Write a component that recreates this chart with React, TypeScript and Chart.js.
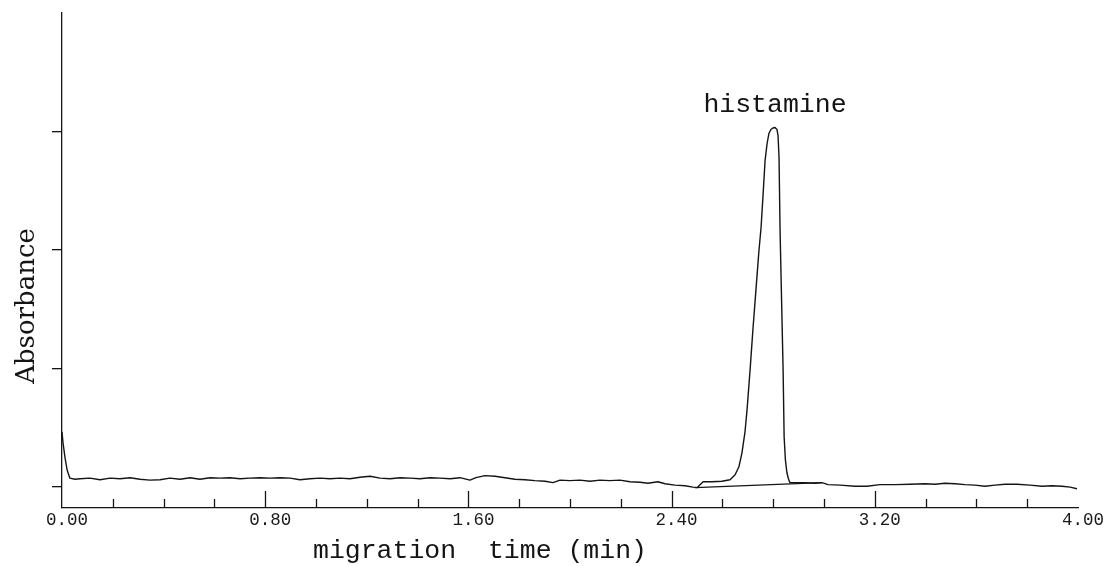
import React, { useEffect, useRef } from "react";
import { Chart, registerables } from "chart.js";

Chart.register(...registerables);

// migration time (min)
const traceTime = [
  0.0, 0.004, 0.012, 0.02, 0.031, 0.051, 0.071, 0.11, 0.15, 0.189, 0.228, 0.268, 0.307, 0.346, 0.386,
  0.425, 0.465, 0.504, 0.543, 0.583, 0.622, 0.661, 0.701, 0.74, 0.78, 0.819, 0.858, 0.898, 0.937, 0.976,
  1.016, 1.055, 1.094, 1.134, 1.173, 1.213, 1.252, 1.291, 1.331, 1.37, 1.409, 1.449, 1.488, 1.528, 1.567,
  1.606, 1.63, 1.665, 1.705, 1.744, 1.783, 1.823, 1.862, 1.902, 1.933, 1.961, 2.0, 2.039, 2.079, 2.118,
  2.157, 2.197, 2.236, 2.276, 2.307, 2.346, 2.374, 2.413, 2.453, 2.484,
  2.5, 2.512, 2.524, 2.559, 2.598, 2.63, 2.65, 2.665, 2.677, 2.689, 2.697, 2.709, 2.72, 2.732, 2.744,
  2.752, 2.76, 2.768, 2.776, 2.783, 2.791, 2.799, 2.807, 2.815, 2.819, 2.823, 2.827, 2.833, 2.839,
  2.843, 2.848, 2.854, 2.86, 2.866,
  2.886, 2.925, 2.965, 2.992, 3.016, 3.063, 3.122, 3.169, 3.22, 3.28, 3.339, 3.398, 3.437, 3.476,
  3.516, 3.555, 3.594, 3.634, 3.673, 3.713, 3.76, 3.811, 3.858, 3.898, 3.937, 3.969, 3.996,
];

// absorbance (arbitrary units)
const traceAbs = [
  0.463, 0.371, 0.244, 0.143, 0.072, 0.063, 0.067, 0.072, 0.059, 0.072, 0.067, 0.076, 0.063, 0.055, 0.059,
  0.072, 0.063, 0.076, 0.063, 0.076, 0.072, 0.076, 0.067, 0.072, 0.076, 0.072, 0.076, 0.072, 0.059, 0.067,
  0.072, 0.067, 0.072, 0.067, 0.08, 0.088, 0.072, 0.067, 0.076, 0.072, 0.067, 0.076, 0.072, 0.067, 0.076,
  0.055, 0.076, 0.093, 0.088, 0.076, 0.063, 0.059, 0.051, 0.046, 0.034, 0.055, 0.051, 0.055, 0.046, 0.055,
  0.051, 0.055, 0.042, 0.038, 0.029, 0.042, 0.025, 0.013, 0.008, -0.004,
  -0.008, 0.017, 0.042, 0.042, 0.046, 0.059, 0.101, 0.168, 0.286, 0.463, 0.649, 0.986, 1.323, 1.66, 1.997,
  2.182, 2.46, 2.755, 2.898, 2.982, 3.016, 3.029, 3.033, 3.016, 2.965, 2.78, 2.165, 1.575, 0.986,
  0.421, 0.227, 0.118, 0.067, 0.034,
  0.034, 0.034, 0.029, 0.034, 0.017, 0.013, 0.004, 0.004, 0.017, 0.017, 0.021, 0.025, 0.021, 0.029,
  0.025, 0.017, 0.013, 0.004, 0.013, 0.021, 0.021, 0.013, 0.004, 0.008, 0.004, -0.004, -0.017,
];

// integration baseline drawn under the peak
const baselineTime = [2.492, 2.992];
const baselineAbs = [-0.008, 0.034];

const peakLabel = "histamine";
const peakTime = 2.807;
const peakAbs = 3.033;

const xMajorLabels = ["0.00", "0.80", "1.60", "2.40", "3.20", "4.00"];
const yTickValues = [0, 1, 2, 3];

const xTitle = "migration  time (min)";
const yTitle = "Absorbance";

const INK = "#141414";

export default function App() {
  const canvasRef = useRef<HTMLCanvasElement | null>(null);

  useEffect(() => {
    const canvas = canvasRef.current;
    if (!canvas) return;

    const decorations = {
      id: "decorations",
      afterDraw(chart: any) {
        const { ctx, chartArea } = chart;
        const xs = chart.scales.x;
        const ys = chart.scales.y;
        ctx.save();
        // upward x tick marks
        ctx.strokeStyle = INK;
        ctx.lineWidth = 1.3;
        xs.ticks.forEach((t: any) => {
          const v = t.value;
          if (v <= 0.001 || v >= 3.999) return;
          const q = v / 0.8;
          const major = Math.abs(q - Math.round(q)) < 1e-6;
          const px = Math.round(xs.getPixelForValue(v)) + 0.5;
          ctx.beginPath();
          ctx.moveTo(px, chartArea.bottom);
          ctx.lineTo(px, chartArea.bottom - (major ? 17 : 9));
          ctx.stroke();
        });
        // peak label
        ctx.fillStyle = INK;
        ctx.font = '26.5px "Liberation Mono"';
        ctx.textAlign = "center";
        ctx.textBaseline = "alphabetic";
        ctx.fillText(peakLabel, xs.getPixelForValue(peakTime), ys.getPixelForValue(peakAbs) - 16);
        // x title
        ctx.textAlign = "left";
        ctx.fillText(xTitle, 313, 558);
        // y title
        ctx.font = '26px "DejaVu Serif"';
        ctx.translate(34, 306);
        ctx.rotate(-Math.PI / 2);
        ctx.textAlign = "center";
        ctx.fillText(yTitle, 0, 0);
        ctx.restore();
      },
    };

    const chart = new Chart(canvas, {
      type: "line",
      data: {
        datasets: [
          {
            data: traceTime.map((t, i) => ({ x: t, y: traceAbs[i] })),
            borderColor: INK,
            borderWidth: 1.4,
            pointRadius: 0,
            tension: 0,
            borderJoinStyle: "round",
          },
          {
            data: baselineTime.map((t, i) => ({ x: t, y: baselineAbs[i] })),
            borderColor: INK,
            borderWidth: 1.3,
            pointRadius: 0,
            tension: 0,
          },
        ],
      },
      options: {
        responsive: false,
        animation: false,
        devicePixelRatio: 1,
        layout: { padding: { top: 13, right: 28, left: 0, bottom: 0 } },
        plugins: { legend: { display: false }, tooltip: { enabled: false } },
        scales: {
          x: {
            type: "linear",
            min: 0,
            max: 4,
            afterFit: (s: any) => {
              s.height = 58;
            },
            grid: { display: false, drawTicks: false },
            border: { display: true, color: INK, width: 1.3 },
            ticks: {
              stepSize: 0.2,
              autoSkip: false,
              maxRotation: 0,
              padding: 2,
              labelOffset: 5,
              color: "#1a1a1a",
              font: { family: "Liberation Mono", size: 17.5 },
              callback: (value: any) => {
                const q = Number(value) / 0.8;
                const idx = Math.round(q);
                return Math.abs(q - idx) < 1e-6 ? xMajorLabels[idx] : "";
              },
            },
          },
          y: {
            type: "linear",
            min: -0.18,
            max: 4.0,
            afterFit: (s: any) => {
              s.width = 62;
            },
            afterBuildTicks: (s: any) => {
              s.ticks = yTickValues.map((v) => ({ value: v }));
            },
            grid: {
              display: true,
              drawOnChartArea: false,
              drawTicks: true,
              tickLength: 10,
              color: INK,
              lineWidth: 1.3,
            },
            border: { display: true, color: INK, width: 1.3 },
            ticks: { display: false },
          },
        },
      },
      plugins: [decorations],
    } as any);

    return () => chart.destroy();
  }, []);

  return (
    <div style={{ position: "fixed", left: 0, top: 0, width: 1106, height: 566, background: "#fff" }}>
      <canvas ref={canvasRef} width={1106} height={566} style={{ width: 1106, height: 566, display: "block" }} />
    </div>
  );
}
